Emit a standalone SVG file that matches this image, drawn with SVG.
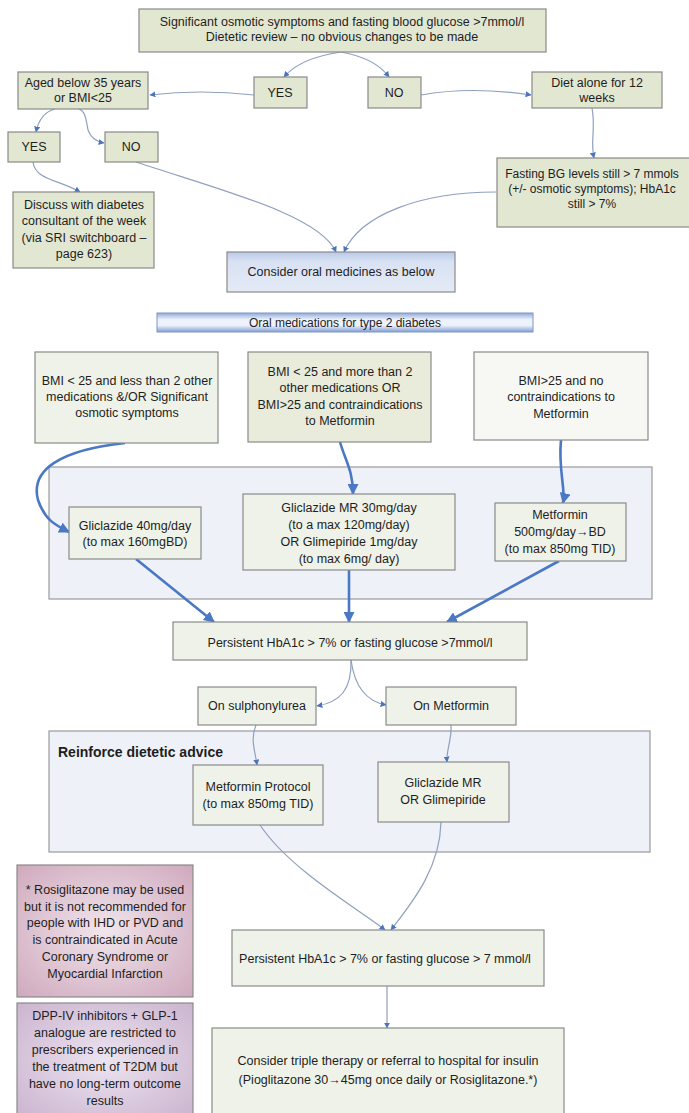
<svg xmlns="http://www.w3.org/2000/svg" width="689" height="1113" viewBox="0 0 689 1113">
<style>
  text { font-family: "Liberation Sans", Arial, sans-serif; font-size: 12.5px; fill: #1e1e1e; text-anchor: middle; }
  .box { stroke: #8a8a8a; stroke-width: 1.2; }
  .olive { fill: #e2e7d2; }
  .pale { fill: #eef2e8; }
  .white { fill: #f7f8f4; }
  .panel { fill: #eef1f7; stroke: #9a9a9a; stroke-width: 1.2; }
  .thin { fill: none; stroke: #8fa0bf; stroke-width: 1.2; marker-end: url(#tip); }
  .thick { fill: none; stroke: #4a78c4; stroke-width: 2.6; marker-end: url(#tipBig); }
</style>
<defs>
  <marker id="tip" viewBox="0 0 10 10" refX="9" refY="5" markerWidth="6" markerHeight="6" orient="auto" markerUnits="userSpaceOnUse">
    <path d="M0,0 L10,5 L0,10 z" fill="#4a74c0"/>
  </marker>
  <marker id="tipBig" viewBox="0 0 10 10" refX="9" refY="5" markerWidth="11" markerHeight="11" orient="auto" markerUnits="userSpaceOnUse">
    <path d="M0,0 L10,5 L0,10 z" fill="#4a78c4"/>
  </marker>
  <linearGradient id="blueBox" x1="0" y1="0" x2="0" y2="1">
    <stop offset="0" stop-color="#b9c9e8"/>
    <stop offset="0.25" stop-color="#d9e2f3"/>
    <stop offset="1" stop-color="#e4eaf6"/>
  </linearGradient>
  <linearGradient id="blueBar" x1="0" y1="0" x2="0" y2="1">
    <stop offset="0" stop-color="#8faad9"/>
    <stop offset="0.35" stop-color="#eef2fa"/>
    <stop offset="0.65" stop-color="#eef2fa"/>
    <stop offset="1" stop-color="#7f9dd3"/>
  </linearGradient>
  <radialGradient id="pink" cx="0.5" cy="0.5" r="0.7">
    <stop offset="0" stop-color="#f1e6ec"/>
    <stop offset="1" stop-color="#cfa9bd"/>
  </radialGradient>
  <radialGradient id="lilac" cx="0.5" cy="0.5" r="0.7">
    <stop offset="0" stop-color="#ece4f0"/>
    <stop offset="1" stop-color="#cbb4cf"/>
  </radialGradient>
</defs>

<!-- background panels -->
<g id="panel-first-line">
  <rect class="panel" x="49" y="467" width="603" height="132"/>
</g>
<g id="panel-reinforce">
  <rect class="panel" x="49" y="731" width="601" height="121"/>
  <text x="58" y="757" style="text-anchor:start;font-weight:bold;font-size:14px">Reinforce dietetic advice</text>
</g>

<!-- connectors -->
<g id="connectors">
  <path class="thin" d="M341 52 Q300 58 284 77"/>
  <path class="thin" d="M341 52 Q375 58 389 77"/>
  <path class="thin" d="M254 95 Q200 89 150 95"/>
  <path class="thin" d="M421 95 Q470 86 531 95"/>
  <path class="thin" d="M55 109 Q40 113 36 132"/>
  <path class="thin" d="M70 108 C86 105 86 120 88 130 Q92 141 104 143"/>
  <path class="thin" d="M33 162 C35 180 60 180 80 192"/>
  <path class="thin" d="M136 162 C220 190 320 215 336 252"/>
  <path class="thin" d="M496 192 C420 192 360 215 344 252"/>
  <path class="thin" d="M592 108 C596 130 590 140 594 158"/>

  <path class="thick" d="M125 443 C60 450 30 470 38 500 C45 520 55 525 69 532"/>
  <path class="thick" d="M340 442 C345 460 353 470 353 494"/>
  <path class="thick" d="M561 440 C558 470 566 490 563 503"/>
  <path class="thick" d="M136 559 L214 622"/>
  <path class="thick" d="M349 570 L349 622"/>
  <path class="thick" d="M559 561 L447 622"/>

  <path class="thin" d="M351 660 C352 690 340 702 317 706"/>
  <path class="thin" d="M351 660 C355 690 370 702 386 705"/>
  <path class="thin" d="M256 725 C250 740 255 750 257 765"/>
  <path class="thin" d="M451 725 C452 740 446 750 447 762"/>
  <path class="thin" d="M260 825 C290 870 360 910 385 930"/>
  <path class="thin" d="M441 822 C440 870 410 905 391 930"/>
  <path class="thin" d="M387 986 L387 1028"/>
</g>

<!-- top decision tree -->
<g id="n-start">
  <rect class="box olive" x="139" y="9" width="407" height="43"/>
  <text x="342" y="26">Significant osmotic symptoms and fasting blood glucose &gt;7mmol/l</text>
  <text x="342" y="41">Dietetic review – no obvious changes to be made</text>
</g>
<g id="n-yes1">
  <rect class="box olive" x="254" y="77" width="53" height="31"/>
  <text x="280" y="97">YES</text>
</g>
<g id="n-no1">
  <rect class="box olive" x="368" y="77" width="53" height="31"/>
  <text x="394" y="97">NO</text>
</g>
<g id="n-aged">
  <rect class="box olive" x="18" y="72" width="130" height="37"/>
  <text x="83" y="87">Aged below 35 years</text>
  <text x="83" y="102">or BMI&lt;25</text>
</g>
<g id="n-diet">
  <rect class="box olive" x="532" y="72" width="130" height="36"/>
  <text x="597" y="87">Diet alone for 12</text>
  <text x="597" y="102">weeks</text>
</g>
<g id="n-yes2">
  <rect class="box olive" x="8" y="132" width="52" height="30"/>
  <text x="34" y="151">YES</text>
</g>
<g id="n-no2">
  <rect class="box olive" x="105" y="132" width="53" height="30"/>
  <text x="131" y="151">NO</text>
</g>
<g id="n-discuss">
  <rect class="box olive" x="13" y="192" width="141" height="76"/>
  <text x="84" y="209">Discuss with diabetes</text>
  <text x="84" y="225">consultant of the week</text>
  <text x="84" y="242">(via SRI switchboard –</text>
  <text x="84" y="258">page 623)</text>
</g>
<g id="n-fasting">
  <rect class="box olive" x="497" y="158" width="200" height="69"/>
  <text x="592" y="178" style="font-size:12px">Fasting BG levels still &gt; 7 mmols</text>
  <text x="592" y="193" style="font-size:12px">(+/- osmotic symptoms); HbA1c</text>
  <text x="592" y="208" style="font-size:12px">still &gt; 7%</text>
</g>
<g id="n-consider-oral">
  <rect class="box" fill="url(#blueBox)" x="227" y="252" width="228" height="40"/>
  <text x="341" y="276">Consider oral medicines as below</text>
</g>
<g id="n-oral-title">
  <rect fill="url(#blueBar)" stroke="#7f96c4" stroke-width="1" x="157" y="313" width="376" height="19"/>
  <text x="345" y="327" style="font-size:12px">Oral medications for type 2 diabetes</text>
</g>

<!-- criteria -->
<g id="n-crit-left">
  <rect class="box pale" x="35" y="352" width="183" height="91"/>
  <text x="127" y="385">BMI &lt; 25 and less than 2 other</text>
  <text x="127" y="401">medications &amp;/OR Significant</text>
  <text x="127" y="417">osmotic symptoms</text>
</g>
<g id="n-crit-mid">
  <rect class="box" fill="#e9ecdb" x="248" y="352" width="183" height="90"/>
  <text x="340" y="376">BMI &lt; 25 and more than 2</text>
  <text x="340" y="392">other medications OR</text>
  <text x="340" y="409">BMI&gt;25 and contraindications</text>
  <text x="340" y="425">to Metformin</text>
</g>
<g id="n-crit-right">
  <rect class="box white" x="474" y="352" width="174" height="88"/>
  <text x="561" y="385">BMI&gt;25 and no</text>
  <text x="561" y="401">contraindications to</text>
  <text x="561" y="418">Metformin</text>
</g>

<!-- first-line treatments -->
<g id="n-gliclazide40">
  <rect class="box pale" x="69" y="507" width="132" height="52"/>
  <text x="135" y="530">Gliclazide 40mg/day</text>
  <text x="135" y="546">(to max 160mgBD)</text>
</g>
<g id="n-gliclazide-mr">
  <rect class="box pale" x="243" y="494" width="212" height="76"/>
  <text x="349" y="512">Gliclazide MR 30mg/day</text>
  <text x="349" y="529">(to a max 120mg/day)</text>
  <text x="349" y="546">OR Glimepiride 1mg/day</text>
  <text x="349" y="563">(to max 6mg/ day)</text>
</g>
<g id="n-metformin">
  <rect class="box pale" x="495" y="503" width="131" height="58"/>
  <text x="560" y="519">Metformin</text>
  <text x="560" y="536">500mg/day→BD</text>
  <text x="560" y="553">(to max 850mg TID)</text>
</g>
<g id="n-persistent1">
  <rect class="box pale" x="173" y="622" width="354" height="38"/>
  <text x="350" y="647">Persistent HbA1c &gt; 7% or fasting glucose &gt;7mmol/l</text>
</g>

<!-- second line -->
<g id="n-on-su">
  <rect class="box pale" x="198" y="687" width="118" height="38"/>
  <text x="257" y="710">On sulphonylurea</text>
</g>
<g id="n-on-met">
  <rect class="box pale" x="386" y="687" width="130" height="38"/>
  <text x="451" y="710">On Metformin</text>
</g>
<g id="n-met-protocol">
  <rect class="box pale" x="193" y="765" width="130" height="60"/>
  <text x="258" y="791">Metformin Protocol</text>
  <text x="258" y="808">(to max 850mg TID)</text>
</g>
<g id="n-gliclazide-or">
  <rect class="box pale" x="378" y="762" width="131" height="60"/>
  <text x="443" y="787">Gliclazide MR</text>
  <text x="443" y="804">OR Glimepiride</text>
</g>

<!-- notes -->
<g id="n-note-rosi">
  <rect class="box" fill="url(#pink)" x="17" y="865" width="176" height="132"/>
  <text x="105" y="894">* Rosiglitazone may be used</text>
  <text x="105" y="911">but it is not recommended for</text>
  <text x="105" y="927">people with IHD or PVD and</text>
  <text x="105" y="944">is contraindicated in Acute</text>
  <text x="105" y="961">Coronary Syndrome or</text>
  <text x="105" y="978">Myocardial Infarction</text>
</g>
<g id="n-note-dpp">
  <rect class="box" fill="url(#lilac)" x="17" y="1003" width="176" height="115"/>
  <text x="105" y="1020">DPP-IV inhibitors + GLP-1</text>
  <text x="105" y="1037">analogue are restricted to</text>
  <text x="105" y="1054">prescribers experienced in</text>
  <text x="105" y="1071">the treatment of T2DM but</text>
  <text x="105" y="1088">have no long-term outcome</text>
  <text x="105" y="1105">results</text>
</g>

<!-- escalation -->
<g id="n-persistent2">
  <rect class="box pale" x="232" y="930" width="312" height="56"/>
  <text x="385" y="963">Persistent HbA1c &gt; 7% or fasting glucose &gt; 7 mmol/l</text>
</g>
<g id="n-triple">
  <rect class="box pale" x="212" y="1028" width="352" height="90"/>
  <text x="388" y="1065">Consider triple therapy or referral to hospital for insulin</text>
  <text x="388" y="1084">(Pioglitazone 30→45mg once daily or Rosiglitazone.*)</text>
</g>
</svg>
